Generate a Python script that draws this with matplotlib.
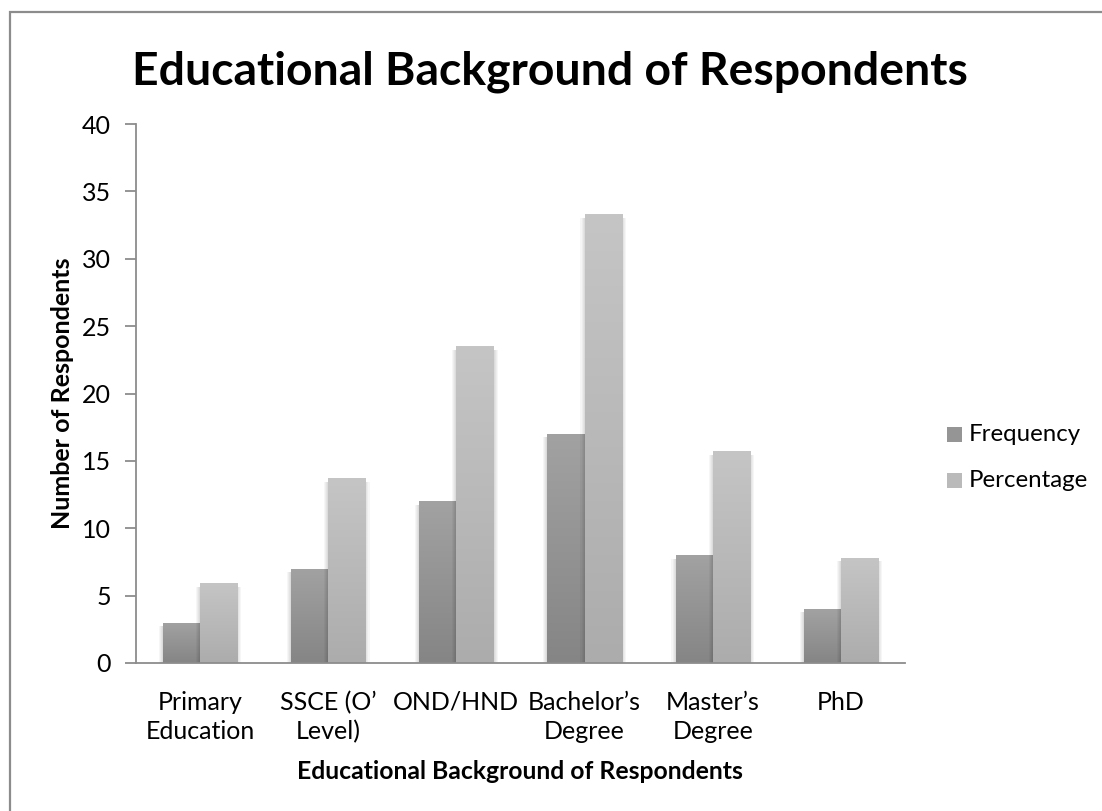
import numpy as np
import matplotlib
matplotlib.use("Agg")
import matplotlib.pyplot as plt
from matplotlib.patches import Rectangle
from matplotlib.colors import LinearSegmentedColormap

categories = ["Primary\nEducation", "SSCE (O\u2019\nLevel)", "OND/HND",
              "Bachelor\u2019s\nDegree", "Master\u2019s\nDegree", "PhD"]
frequency = [3, 7, 12, 17, 8, 4]
percentage = [5.9, 13.7, 23.5, 33.3, 15.7, 7.8]
series_names = ["Frequency", "Percentage"]
yticks = [0, 5, 10, 15, 20, 25, 30, 35, 40]

FONT = "Lato"
plt.rcParams["font.family"] = [FONT, "DejaVu Sans"]

W, H = 1102, 811
fig = plt.figure(figsize=(W / 100, H / 100), dpi=100)
fig.patch.set_facecolor("white")

# outer chart border
fig.patches.append(Rectangle((10 / W, -0.1), 1.2, 1 - 12 / H + 0.1,
                             transform=fig.transFigure, fill=False,
                             edgecolor="#8c8c8c", lw=1.6))

ax = fig.add_axes([136 / W, 1 - 663 / H, 769 / W, 539 / H])
ax.set_xlim(-0.5, len(categories) - 0.5)
ax.set_ylim(0, 40)

bw = 0.29
grad = np.linspace(0, 1, 256).reshape(-1, 1)
cmaps = [LinearSegmentedColormap.from_list("f", ["#858585", "#a2a2a2"]),
         LinearSegmentedColormap.from_list("p", ["#acacac", "#c5c5c5"])]
solid = ["#959595", "#bababa"]


def draw_bar(x0, h, cmap, z):
    # soft drop shadow along the sides
    for k in range(4):
        d = 0.008 * (k + 1)
        ax.add_patch(Rectangle((x0 - d, 0), bw + 2 * d, h - 0.25,
                               facecolor="black", alpha=0.035, lw=0, zorder=z - 1,
                               clip_on=False))
    rect = Rectangle((x0, 0), bw, h, facecolor="none", lw=0, zorder=z)
    ax.add_patch(rect)
    im = ax.imshow(grad, cmap=cmap, aspect="auto", origin="lower",
                   extent=(x0, x0 + bw, 0, h), zorder=z, interpolation="bilinear")
    im.set_clip_path(rect)


x = np.arange(len(categories))
for i in range(len(categories)):
    draw_bar(x[i] - bw, frequency[i], cmaps[0], 3)
    draw_bar(x[i], percentage[i], cmaps[1], 4)

ax.set_xlim(-0.5, len(categories) - 0.5)
ax.set_ylim(0, 40)

for s in ["top", "right"]:
    ax.spines[s].set_visible(False)
ax.spines["left"].set_color("#8c8c8c")
ax.spines["bottom"].set_color("#8c8c8c")
ax.spines["left"].set_linewidth(1.3)
ax.spines["bottom"].set_linewidth(1.3)
ax.spines["bottom"].set_zorder(6)

ax.set_yticks(yticks)
ax.set_yticklabels([str(v) for v in yticks], fontsize=18)
ax.tick_params(axis="y", length=8, width=1.3, color="#8c8c8c", pad=10)
ax.set_xticks(x)
ax.set_xticklabels(categories, fontsize=18, linespacing=1.33)
ax.tick_params(axis="x", length=0, pad=20)

ax.set_ylabel("Number of Respondents", fontsize=18, fontweight="bold")
ax.yaxis.set_label_coords(-0.095, 0.5)
ax.set_xlabel("Educational Background of Respondents", fontsize=17.8,
              fontweight="bold")
ax.xaxis.set_label_coords(0.4995, -0.202)
ax.xaxis.label.set_va("center")
ax.yaxis.label.set_va("center")

fig.text(550 / W, 1 - 72 / H, "Educational Background of Respondents",
         ha="center", va="center", fontsize=33.3, fontweight="bold")

# legend
for j, name in enumerate(series_names):
    yc = 434 + 46 * j
    fig.patches.append(Rectangle((947 / W, 1 - (yc + 7.5) / H), 15 / W, 15 / H,
                                 transform=fig.transFigure,
                                 facecolor=solid[j], lw=0))
    fig.text(969 / W, 1 - yc / H, name, ha="left", va="center", fontsize=17.3)

fig.savefig("out.png", dpi=100, facecolor="white")
